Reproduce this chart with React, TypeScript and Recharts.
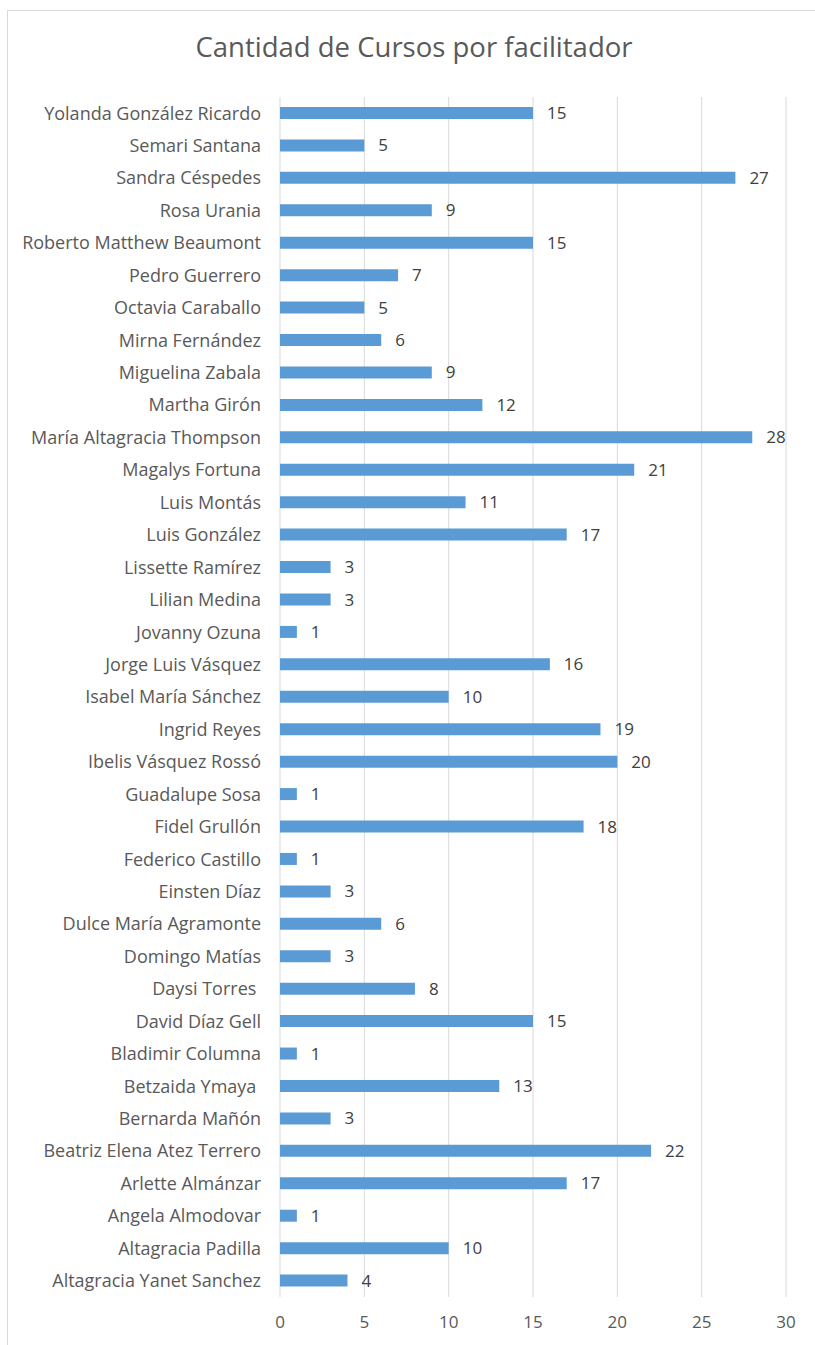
import { BarChart, Bar, XAxis, YAxis, CartesianGrid, LabelList } from 'recharts';

// Facilitators, listed top to bottom as they appear on the chart
const facilitators = [
  'Yolanda González Ricardo',
  'Semari Santana',
  'Sandra Céspedes',
  'Rosa Urania',
  'Roberto Matthew Beaumont',
  'Pedro Guerrero',
  'Octavia Caraballo',
  'Mirna Fernández',
  'Miguelina Zabala',
  'Martha Girón',
  'María Altagracia Thompson',
  'Magalys Fortuna',
  'Luis Montás',
  'Luis González',
  'Lissette Ramírez',
  'Lilian Medina',
  'Jovanny Ozuna',
  'Jorge Luis Vásquez',
  'Isabel María Sánchez',
  'Ingrid Reyes',
  'Ibelis Vásquez Rossó',
  'Guadalupe Sosa',
  'Fidel Grullón',
  'Federico Castillo',
  'Einsten Díaz',
  'Dulce María Agramonte',
  'Domingo Matías',
  'Daysi Torres\u00a0',
  'David Díaz Gell',
  'Bladimir Columna',
  'Betzaida Ymaya\u00a0',
  'Bernarda Mañón',
  'Beatriz Elena Atez Terrero',
  'Arlette Almánzar',
  'Angela Almodovar',
  'Altagracia Padilla',
  'Altagracia Yanet Sanchez',
];

const courses = [
  15, 5, 27, 9, 15, 7, 5, 6, 9, 12, 28, 21, 11, 17, 3, 3, 1, 16, 10, 19, 20, 1,
  18, 1, 3, 6, 3, 8, 15, 1, 13, 3, 22, 17, 1, 10, 4,
];

const xTicks = [0, 5, 10, 15, 20, 25, 30];

const TITLE = 'Cantidad de Cursos por facilitador';
const FONT = '"Open Sans", "Noto Sans", sans-serif';

export default function App() {
  const data = facilitators.map((name, i) => ({ name, value: courses[i] }));

  return (
    <div style={{ position: 'absolute', left: 0, top: 0, width: 815, height: 1345, background: '#fff', overflow: 'hidden', fontFamily: FONT }}>
      {/* chart frame */}
      <div style={{ position: 'absolute', left: 7, top: 10, width: 830, height: 1360, border: '1px solid #d9d9d9', boxSizing: 'border-box' }} />
      <div style={{ position: 'absolute', left: 14, top: 28, width: 800, textAlign: 'center', fontSize: 27.5, color: '#595959' }}>
        {TITLE}
      </div>
      <div style={{ position: 'absolute', left: 0, top: 0 }}>
        <BarChart
          width={815}
          height={1345}
          data={data}
          layout="vertical"
          margin={{ top: 97, right: 29, bottom: 0, left: 0 }}
          barSize={12}
        >
          <CartesianGrid horizontal={false} stroke="#d9d9d9" />
          <XAxis
            type="number"
            domain={[0, 30]}
            ticks={xTicks}
            axisLine={false}
            tickLine={false}
            tickSize={0}
            tickMargin={19}
            height={48}
            tick={{ fill: '#595959', fontSize: 17, fontFamily: FONT }}
          />
          <YAxis
            type="category"
            dataKey="name"
            width={280}
            interval={0}
            axisLine={false}
            tickLine={false}
            tickSize={0}
            tickMargin={19}
            tick={{ fill: '#595959', fontSize: 18, fontFamily: FONT }}
          />
          <Bar dataKey="value" fill="#5b9bd5" isAnimationActive={false}>
            <LabelList dataKey="value" position="right" offset={14} fill="#404040" fontSize={17} fontFamily={FONT} />
          </Bar>
        </BarChart>
      </div>
    </div>
  );
}
